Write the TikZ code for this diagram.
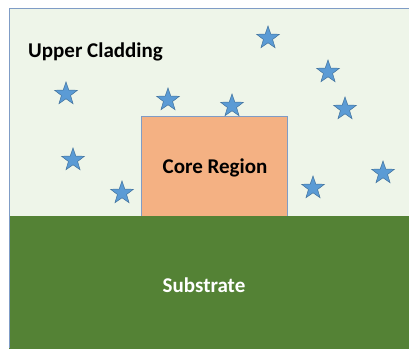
\documentclass[tikz,border=0pt]{standalone}
\usepackage{fontspec}
\setmainfont{Carlito}
\usetikzlibrary{shapes.geometric}
\definecolor{cladfill}{HTML}{EEF5E9}
\definecolor{edgeblue}{HTML}{7F9CC6}
\definecolor{corefill}{HTML}{F4B183}
\definecolor{subfill}{HTML}{548235}
\definecolor{starfill}{HTML}{5B9BD5}
\definecolor{staredge}{HTML}{41719C}
\tikzset{
  region/.style={draw=edgeblue, line width=0.8pt},
  starshape/.style={star, star points=5, star point ratio=2.5, minimum size=24pt, inner sep=0pt,
    fill=starfill, draw=staredge, line width=0.5pt},
  lbl/.style={font=\bfseries\fontsize{21}{24}\selectfont}
}
\begin{document}
\begin{tikzpicture}[x=1pt,y=-1pt]
\useasboundingbox (0,0) rectangle (409,348);
\fill[white] (0,0) rectangle (409,348);
\node[region, fill=cladfill, anchor=north west, minimum width=402pt, minimum height=208pt, inner sep=0pt] (clad) at (9,8) {};
\node[region, fill=corefill, anchor=north west, minimum width=146pt, minimum height=100pt, inner sep=0pt] (core) at (141,116) {};
\node[fill=subfill, draw=subfill, anchor=north west, minimum width=402pt, minimum height=134pt, inner sep=0pt] (sub) at (9,216) {};
\draw[edgeblue, line width=0.8pt] (9,216) -- (9,348);
\node[lbl, anchor=west, inner sep=0pt] (ul) at (28,52) {Upper Cladding};
\node[lbl] (cr) at (215,168) {Core Region};
\node[lbl, text=white] (st) at (204,285) {Substrate};
\foreach \n/\x/\y in {s1/66/94, s2/168/100, s3/232/106, s4/268/38, s5/328/72, s6/345/109, s7/73/160, s8/122/193, s9/313/188, s10/383/173}
  \node[starshape] (\n) at (\x,\y) {};
\end{tikzpicture}
\end{document}
